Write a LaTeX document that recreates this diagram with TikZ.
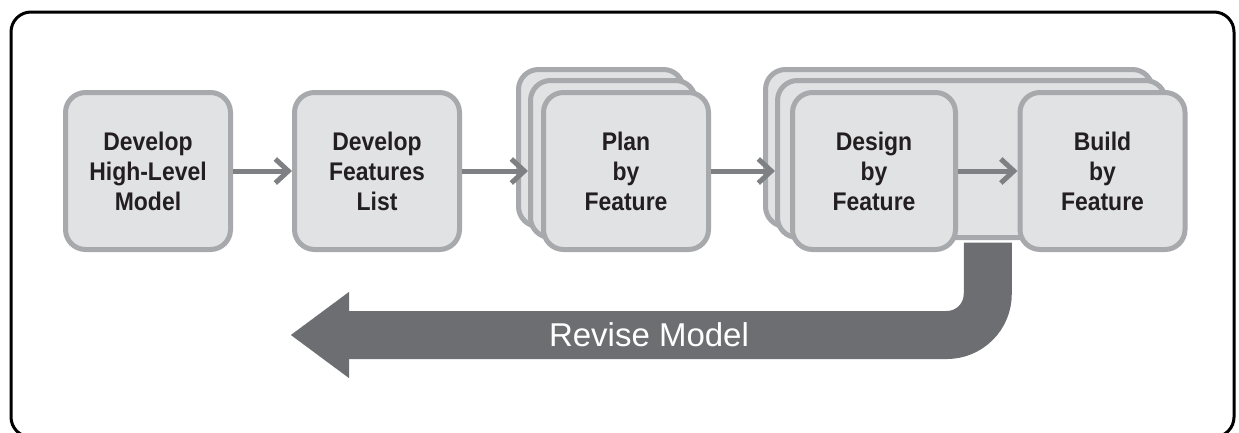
\documentclass[tikz,border=0pt]{standalone}
\usepackage{fontspec}
\setmainfont{Liberation Sans}
\newfontfamily\stagefont{Liberation Sans}[FakeStretch=0.9]
\usetikzlibrary{arrows.meta,calc}

\definecolor{boxfill}{HTML}{E1E2E4}
\definecolor{boxline}{HTML}{A7A9AC}
\definecolor{flowgray}{HTML}{7F8084}
\definecolor{revgray}{HTML}{6D6E72}
\definecolor{inkblack}{HTML}{231F20}

\tikzset{
  stage/.style={draw=boxline, line width=5pt, fill=boxfill, rounded corners=20pt,
    minimum width=165pt, minimum height=157pt, inner sep=0pt, align=center,
    text=inkblack, font=\stagefont\fontsize{25.5}{30}\selectfont\bfseries},
  panel/.style={stage, minimum width=388pt},
  flow/.style={draw=flowgray, line width=5pt, -{Straight Barb[length=13pt,width=24pt]}},
}

\begin{document}
\begin{tikzpicture}[x=1pt, y=-1pt]

\clip (0,0) rectangle (1239,432);
\draw[line width=3pt, rounded corners=20pt] (11,12) rectangle (1234,437);

\node[stage] (model) at (148,171) {Develop\\High-Level\\Model};
\node[stage] (list) at (377,171) {Develop\\Features\\List};

\node[stage] (plan3) at (601,148) {};
\node[stage] (plan2) at (613,159) {};
\node[stage] (plan) at (626,171) {Plan\\by\\Feature};

\node[panel, minimum width=387pt] (design3) at (959,148) {};
\node[panel] (design2) at (971.5,159) {};
\node[stage, minimum width=163pt] (design) at (874,171) {Design\\by\\Feature};
\node[stage] (build) at (1102.5,171) {Build\\by\\Feature};

\draw[flow] (model.east) -- (list.west);
\draw[flow] (list.east) -- (list.east -| plan2.west);
\draw[flow] (plan.east) -- (plan.east -| design2.west);
\draw[flow] (design.east) -- (build.west);

\coordinate (gap) at ($(design.east)!.5!(build.west)$);
\coordinate (revend) at (291,335);
\draw[revgray, line width=48pt, rounded corners=41pt, shorten <=2.5pt,
  -{Triangle[length=58pt, width=86pt, line width=0.1pt]}]
  (gap |- design2.south) |- (revend);
\node[text=white, font=\fontsize{33}{33}\selectfont] (revlbl) at (649,335) {Revise Model};

\end{tikzpicture}
\end{document}
